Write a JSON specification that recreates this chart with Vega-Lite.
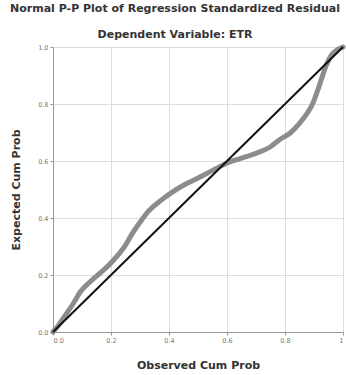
{
  "$schema": "https://vega.github.io/schema/vega-lite/v6.json",
  "width": 290,
  "height": 285,
  "autosize": "none",
  "padding": {"left": 53, "top": 47, "right": 3, "bottom": 43},
  "background": "white",
  "title": {
    "text": "Normal P-P Plot of Regression Standardized Residual",
    "subtitle": "Dependent Variable: ETR",
    "font": "DejaVu Sans",
    "fontSize": 11,
    "fontWeight": "bold",
    "color": "#333333",
    "subtitleFont": "DejaVu Sans",
    "subtitleFontSize": 11,
    "subtitleFontWeight": "bold",
    "subtitleColor": "#333333",
    "anchor": "middle",
    "dx": -23,
    "offset": 3,
    "subtitlePadding": 15
  },
  "config": {
    "view": {"stroke": null},
    "axis": {
      "labelFont": "DejaVu Sans",
      "labelFontSize": 6.5,
      "labelColor": "#777777",
      "titleFont": "DejaVu Sans",
      "titleFontSize": 11,
      "titleFontWeight": "bold",
      "titleColor": "#333333",
      "domainColor": "#999999",
      "tickColor": "#999999",
      "tickSize": 3,
      "gridColor": "#dddddd",
      "gridWidth": 1
    }
  },
  "datasets": {
    "curve": [
      {"obs": 0.0, "exp": 0.0},
      {"obs": 0.02, "exp": 0.025},
      {"obs": 0.04, "exp": 0.055},
      {"obs": 0.07, "exp": 0.1},
      {"obs": 0.095, "exp": 0.142},
      {"obs": 0.13, "exp": 0.178},
      {"obs": 0.16, "exp": 0.205},
      {"obs": 0.19, "exp": 0.232},
      {"obs": 0.22, "exp": 0.265},
      {"obs": 0.25, "exp": 0.305},
      {"obs": 0.27, "exp": 0.34},
      {"obs": 0.3, "exp": 0.385},
      {"obs": 0.33, "exp": 0.425},
      {"obs": 0.37, "exp": 0.46},
      {"obs": 0.41, "exp": 0.49},
      {"obs": 0.45, "exp": 0.515},
      {"obs": 0.5, "exp": 0.54},
      {"obs": 0.55, "exp": 0.567},
      {"obs": 0.59, "exp": 0.588},
      {"obs": 0.65, "exp": 0.61},
      {"obs": 0.7, "exp": 0.627},
      {"obs": 0.75, "exp": 0.65},
      {"obs": 0.78, "exp": 0.674},
      {"obs": 0.82, "exp": 0.7},
      {"obs": 0.85, "exp": 0.732},
      {"obs": 0.875, "exp": 0.765},
      {"obs": 0.895, "exp": 0.8},
      {"obs": 0.91, "exp": 0.84},
      {"obs": 0.925, "exp": 0.885},
      {"obs": 0.94, "exp": 0.93},
      {"obs": 0.963, "exp": 0.975},
      {"obs": 0.98, "exp": 0.99},
      {"obs": 1.0, "exp": 1.0}
    ],
    "diag": [
      {"obs": 0.0, "exp": 0.0},
      {"obs": 1.0, "exp": 1.0}
    ]
  },
  "layer": [
    {
      "data": {"name": "curve"},
      "mark": {"type": "line", "color": "#8c8c8c", "strokeWidth": 5, "strokeCap": "round", "strokeJoin": "round", "interpolate": "monotone"},
      "encoding": {
        "x": {
          "field": "obs", "type": "quantitative",
          "scale": {"domain": [0, 1], "nice": false},
          "axis": {"title": "Observed Cum Prob", "values": [0, 0.2, 0.4, 0.6, 0.8, 1], "labelExpr": "datum.value == 1 ? '1' : format(datum.value, '.1f')", "titlePadding": 16, "labelPadding": 2}
        },
        "y": {
          "field": "exp", "type": "quantitative",
          "scale": {"domain": [0, 1], "nice": false},
          "axis": {"title": "Expected Cum Prob", "values": [0, 0.2, 0.4, 0.6, 0.8, 1], "format": ".1f", "titlePadding": 16, "labelPadding": 2}
        }
      }
    },
    {
      "data": {"name": "diag"},
      "mark": {"type": "line", "color": "#111111", "strokeWidth": 2},
      "encoding": {
        "x": {"field": "obs", "type": "quantitative"},
        "y": {"field": "exp", "type": "quantitative"}
      }
    }
  ]
}
